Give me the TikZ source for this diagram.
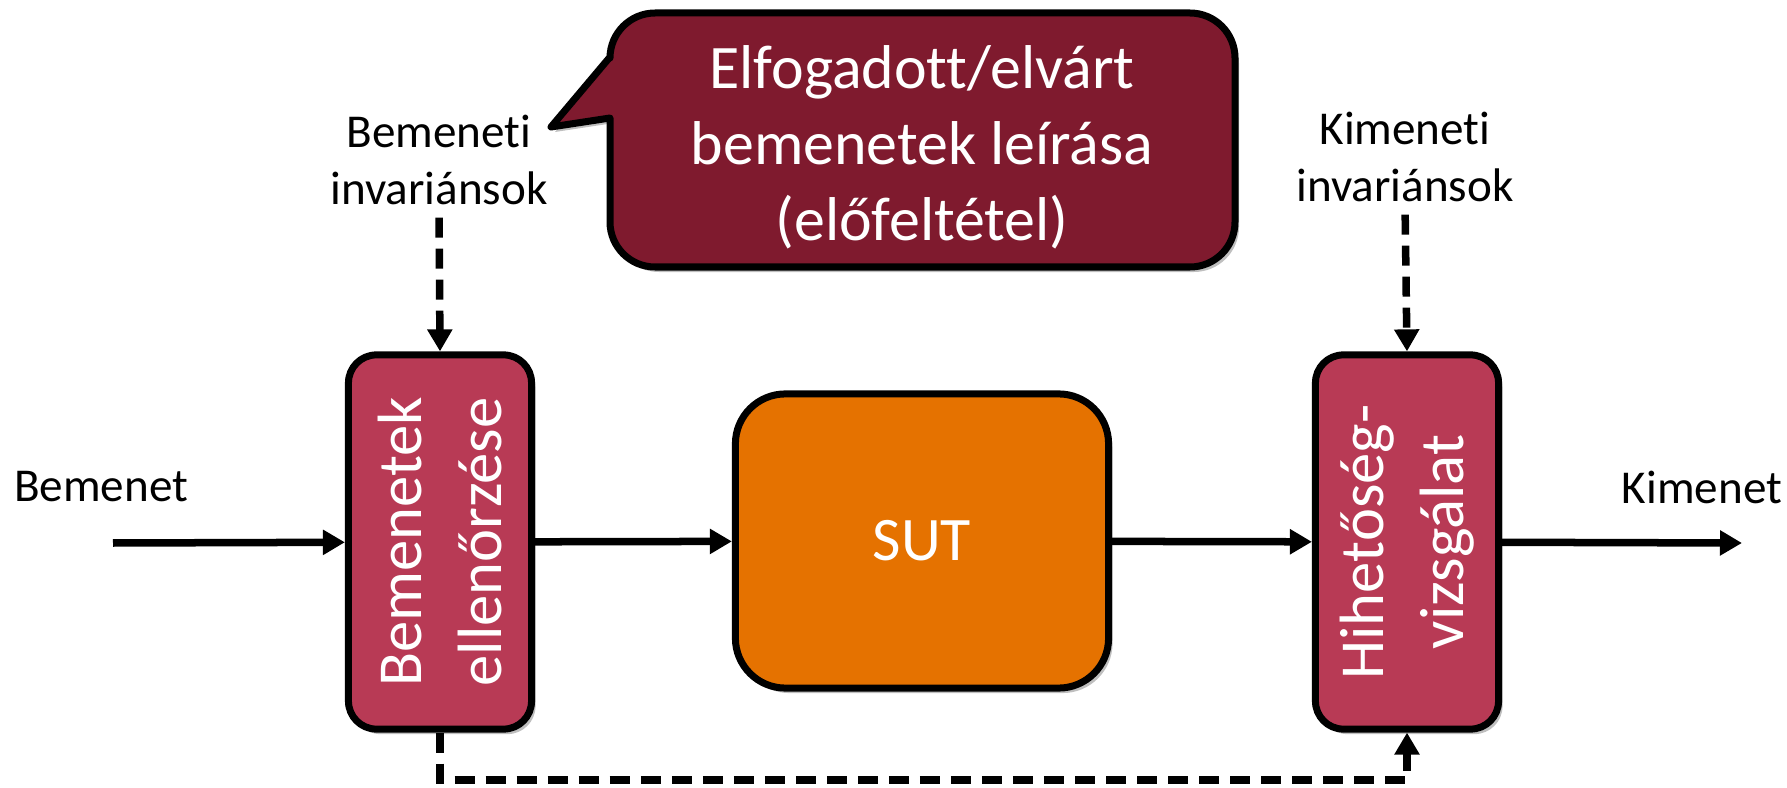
\documentclass[tikz,border=0pt]{standalone}
\usepackage{fontspec}
\setmainfont{Carlito}[Ligatures={NoCommon}]
\usetikzlibrary{arrows.meta,positioning,shadows}

\definecolor{dobozpiros}{HTML}{B83A55}
\definecolor{sotetpiros}{HTML}{7F1A2E}
\definecolor{narancs}{HTML}{E57200}

\begin{document}
\begin{tikzpicture}[
    x=0.01cm, y=-0.01cm,
    >={Triangle[length=0.22cm,width=0.24cm]},
    arnyek/.style={drop shadow={shadow xshift=0.04cm, shadow yshift=-0.05cm, opacity=0.25, fill=black}},
    ellenor/.style={rectangle, rounded corners=0.28cm, draw=black, line width=0.07cm, fill=dobozpiros, minimum width=1.83cm, minimum height=3.74cm, inner sep=0pt, arnyek},
    rendszer/.style={rectangle, rounded corners=0.5cm, draw=black, line width=0.07cm, fill=narancs, minimum width=3.73cm, minimum height=2.94cm, inner sep=0pt, text=white, font=\fontsize{17.6}{21.6}\selectfont, arnyek},
    forgatott/.style={rotate=90, align=center, text=white, inner sep=0pt, font=\fontsize{17.8}{22.8}\selectfont},
    buborek/.style={draw=black, line width=0.07cm, fill=sotetpiros, line join=round, arnyek},
    buboreksz/.style={align=center, text=white, inner sep=0pt, font=\fontsize{17.6}{21.6}\selectfont},
    felirat/.style={align=center, inner sep=0pt, font=\fontsize{13.4}{16.2}\selectfont},
    nyil/.style={->, line width=0.075cm},
    szaggatott/.style={->, line width=0.075cm, dash pattern=on 0.2cm off 0.11cm}
]
\useasboundingbox (0,0) rectangle (1787,788);
% ---------- dobozok ----------
\node[ellenor]  (bem) at (440,542) {};
\node[forgatott] (bemtxt) at (bem) {Bemenetek\\ellenőrzése};
\node[rendszer] (sut) at (922,541) {SUT};
\node[ellenor]  (hih) at (1407,542) {};
\node[forgatott] (hihtxt) at (hih) {Hihetőség-\\vizsgálat};
% ---------- feliratok ----------
\node[felirat] (bemenet) at (101,487) {Bemenet};
\node[felirat] (kimenet) at (1702,487) {Kimenet};
\node[felirat] (invbe) at (439,160) {Bemeneti\\invariánsok};
\node[felirat] (invki) at (1405,157) {Kimeneti\\invariánsok};
% ---------- buborek ----------
\coordinate (csucs) at (551,127);
\draw[buborek] (csucs) -- (610,57) {[rounded corners=0.45cm] -- (610,13) -- (1235,13) -- (1235,267) -- (610,267)} -- (610,118) -- cycle;
\node[buboreksz] (leiras) at (922,147) {Elfogadott/elvárt\\bemenetek leírása\\(előfeltétel)};
% ---------- nyilak ----------
\coordinate (be) at (113,543);
\coordinate (ki) at (1742,543);
\coordinate (vissza) at (922,780);
\draw[nyil] (be) -- (bem);
\draw[nyil] (bem) -- (sut);
\draw[nyil] (sut) -- (hih);
\draw[nyil] (hih) -- (ki);
\draw[szaggatott, shorten <=0.12cm] (invbe.south) -- (bem.north);
\draw[szaggatott, shorten <=0.12cm] (invki.south) -- (hih.north);
\draw[szaggatott] (bem.south) |- (vissza) -| (hih.south);
\end{tikzpicture}
\end{document}
